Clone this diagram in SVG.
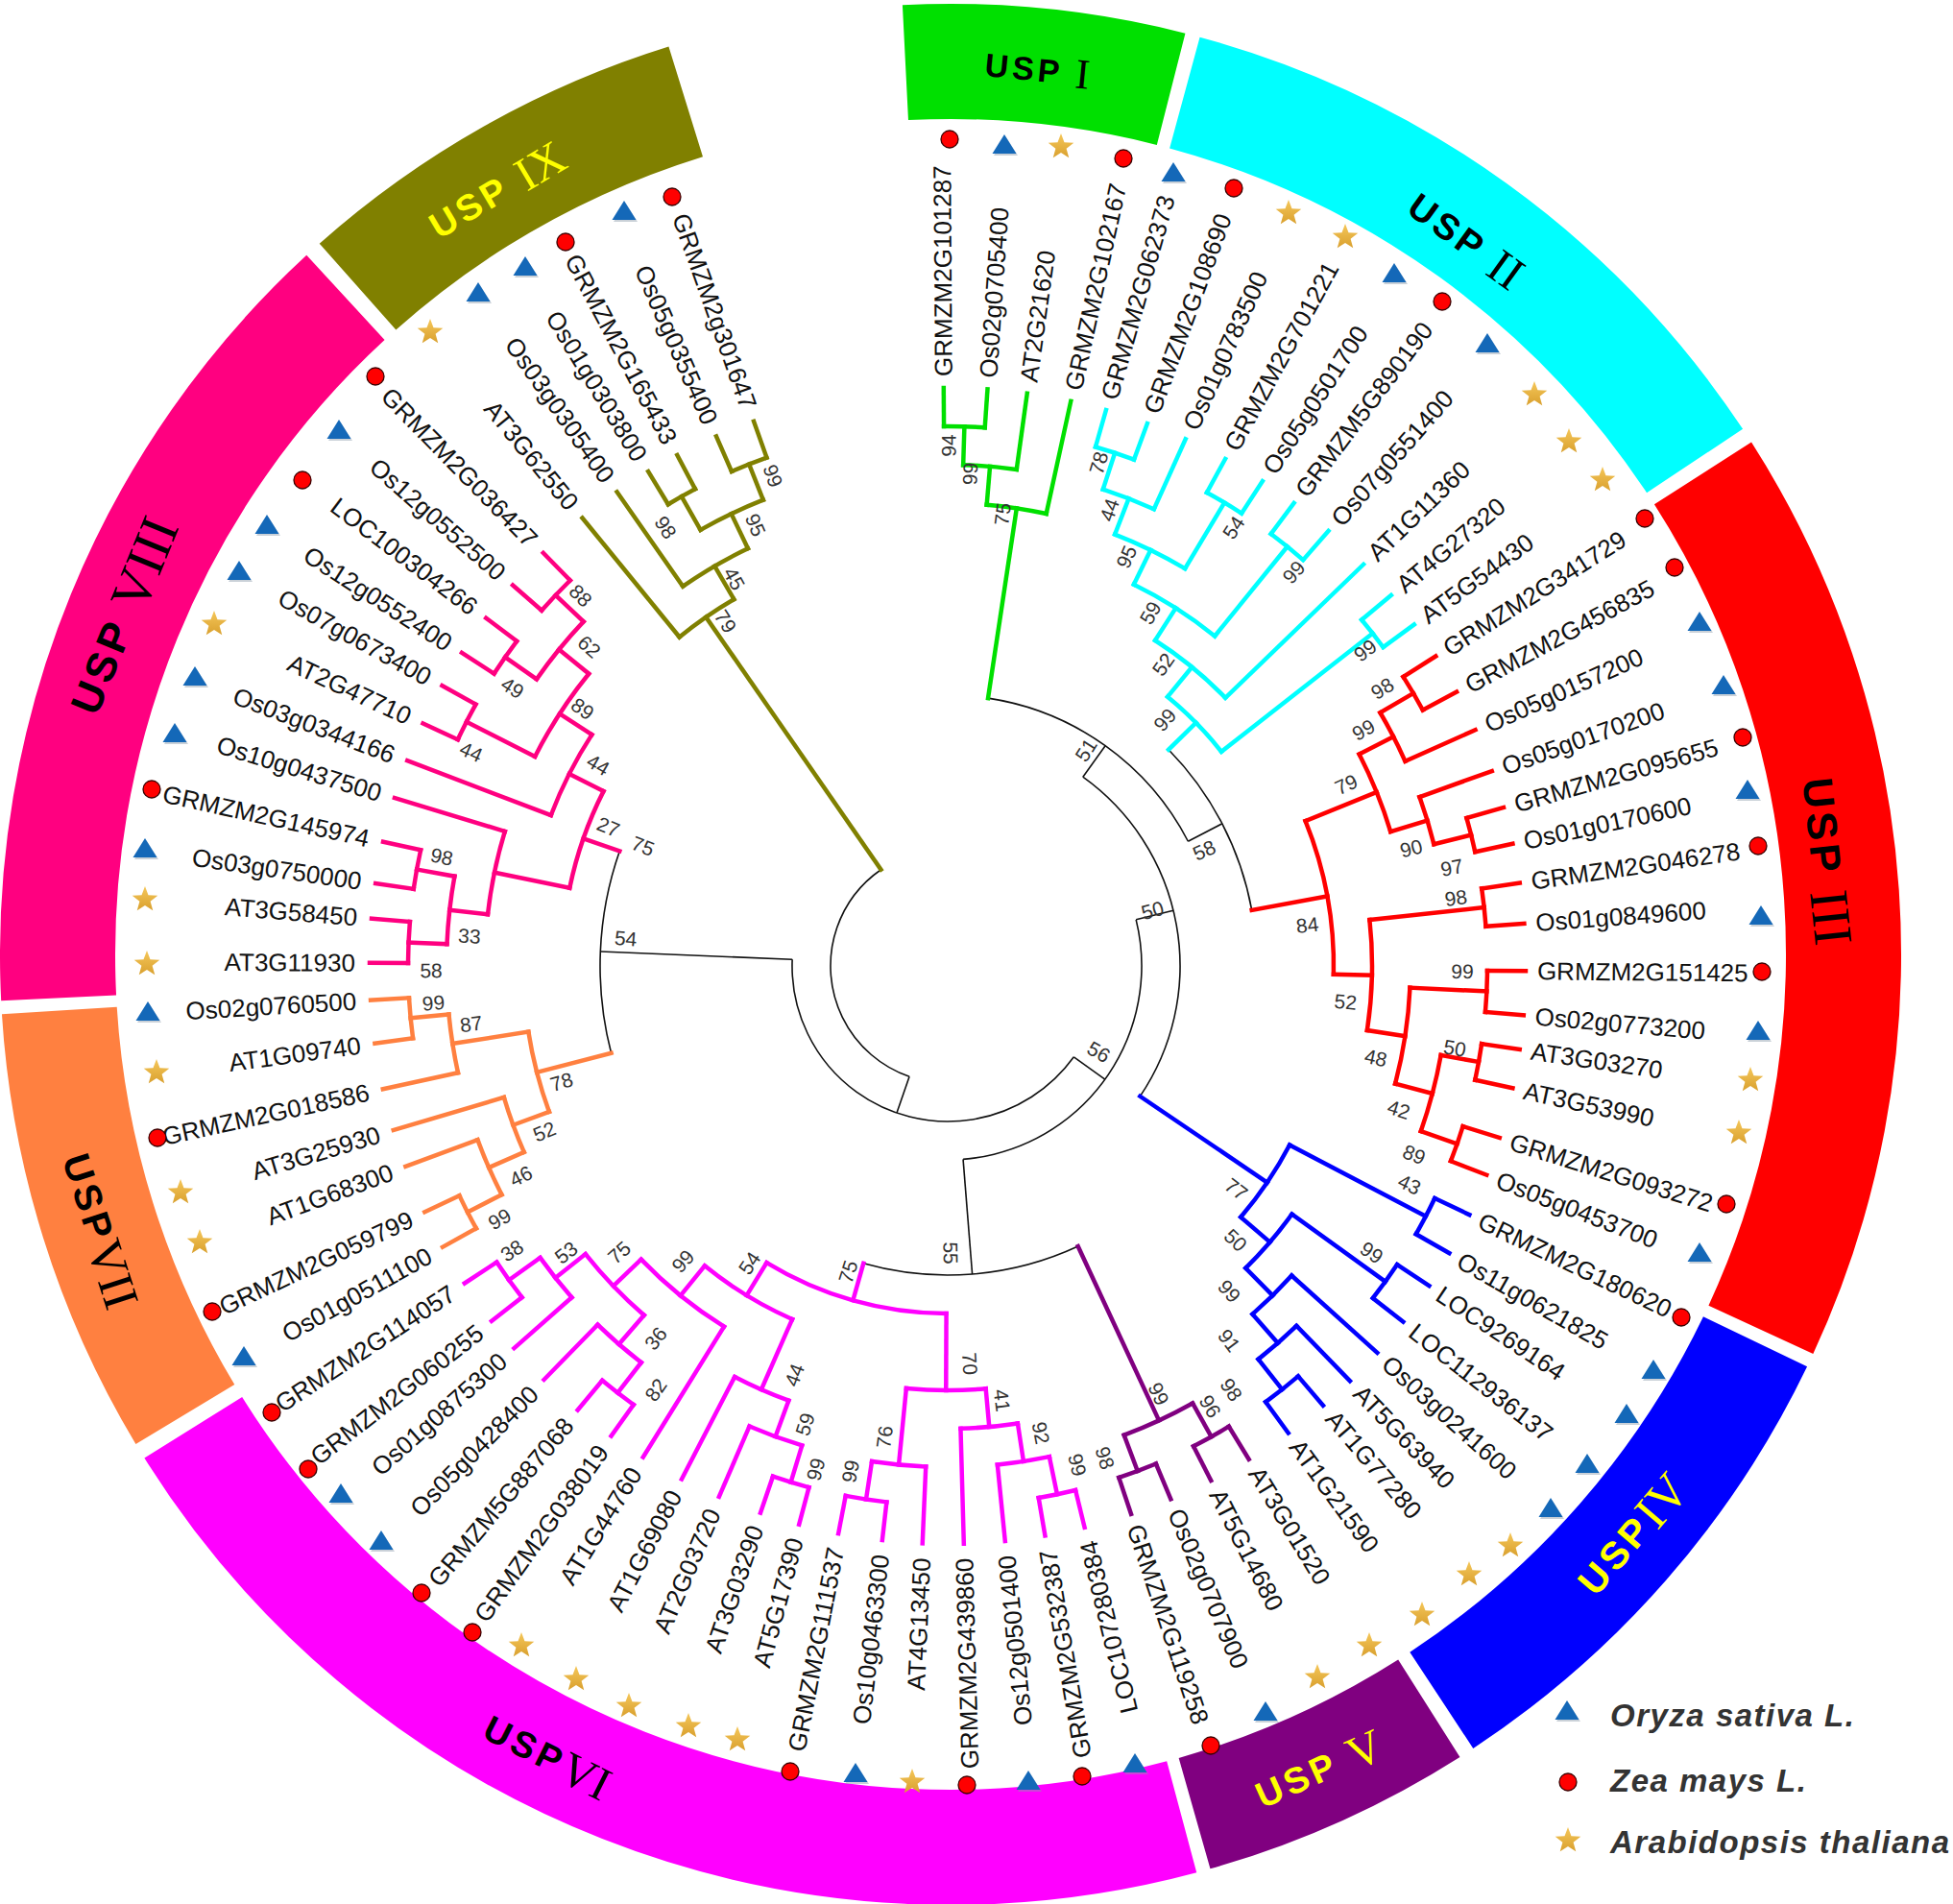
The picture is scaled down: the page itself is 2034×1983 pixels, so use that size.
<svg xmlns="http://www.w3.org/2000/svg" width="2034" height="1983" viewBox="0 0 2034 1983">
<defs>
<style>
.t{font-family:"Liberation Sans",Arial,sans-serif;font-size:26px;fill:#111;dominant-baseline:central}
.e{text-anchor:end}
.bs{font-family:"Liberation Sans",Arial,sans-serif;font-size:21px;fill:#333;text-anchor:middle;dominant-baseline:central}
.bl{font-family:"Liberation Sans",Arial,sans-serif;font-weight:bold;letter-spacing:4px;text-anchor:middle;dominant-baseline:central}
.rn{font-family:"Liberation Serif","Times New Roman",serif;font-weight:normal;font-size:1.3em;letter-spacing:0}
.lg{font-family:"Liberation Sans",Arial,sans-serif;font-weight:bold;font-style:italic;font-size:33px;letter-spacing:1.5px;fill:#333}
.bd{fill:none;stroke-width:120}
</style>
<linearGradient id="sg" x1="0" y1="0" x2="0" y2="1"><stop offset="0" stop-color="#F5C75A"/><stop offset="1" stop-color="#D9A02E"/></linearGradient>
<g id="tri"><path d="M1.5,-9.5 L14,10 L-11,10Z" fill="#8a9aa8" opacity="0.45"/><path d="M0,-12 L12.5,8 L-12.5,8Z" fill="#1468B8"/></g>
<circle id="dot" r="9" fill="#FF0000" stroke="#3a0000" stroke-width="1.3"/>
<path id="star" d="M0,-14 L3.47,-4.77 L13.31,-4.33 L5.61,1.82 L8.23,11.33 L0,5.9 L-8.23,11.33 L-5.61,1.82 L-13.31,-4.33 L-3.47,-4.77Z" fill="url(#sg)"/>
</defs>
<rect width="2034" height="1983" fill="#fff"/>

<g id="bands" transform="translate(990 994)">
<g id="band-USP-I"><circle class="bd" r="930" pathLength="360" stroke="#00E000" stroke-dasharray="17.2 720" transform="rotate(-92.9)"/><text class="bl" fill="#000" font-size="34" transform="rotate(-84.4) translate(926 0) rotate(90)">USP <tspan class="rn">I</tspan></text></g>
<g id="band-USP-II"><circle class="bd" r="930" pathLength="360" stroke="#00FFFF" stroke-dasharray="41.25 720" transform="rotate(-74.8)"/><text class="bl" fill="#000" font-size="38" transform="rotate(-54.2) translate(917 0) rotate(90)">USP <tspan class="rn">II</tspan></text></g>
<g id="band-USP-III"><circle class="bd" r="930" pathLength="360" stroke="#FF0000" stroke-dasharray="57.45 720" transform="rotate(-32.6)"/><text class="bl" fill="#000" font-size="44" transform="rotate(-6.07) translate(917 0) rotate(90)">USP <tspan class="rn">III</tspan></text></g>
<g id="band-USP-IV"><circle class="bd" r="930" pathLength="360" stroke="#0000FF" stroke-dasharray="30.95 720" transform="rotate(25.7)"/><text class="bl" fill="#FFFF00" font-size="40" transform="rotate(40.4) translate(932 0) rotate(-90)">USP<tspan class="rn">IV</tspan></text></g>
<g id="band-USP-V"><circle class="bd" r="930" pathLength="360" stroke="#800080" stroke-dasharray="16.55 720" transform="rotate(57.6)"/><text class="bl" fill="#FFFF00" font-size="38" transform="rotate(65.7) translate(932 0) rotate(-90)">USP <tspan class="rn">V</tspan></text></g>
<g id="band-USP-VI"><circle class="bd" r="930" pathLength="360" stroke="#FF00FF" stroke-dasharray="73 720" transform="rotate(75)"/><text class="bl" fill="#000" font-size="38" transform="rotate(116.7) translate(935 0) rotate(-90)">USP<tspan class="rn">VI</tspan></text></g>
<g id="band-USP-VII"><circle class="bd" r="930" pathLength="360" stroke="#FF8040" stroke-dasharray="27.4 720" transform="rotate(149)"/><text class="bl" fill="#000" font-size="40" transform="rotate(162) translate(932 0) rotate(-90)">USP<tspan class="rn">VII</tspan></text></g>
<g id="band-USP-VIII"><circle class="bd" r="930" pathLength="360" stroke="#FF0080" stroke-dasharray="50.15 720" transform="rotate(177.2)"/><text class="bl" fill="#000" font-size="44" transform="rotate(202.25) translate(932 0) rotate(90)">USP <tspan class="rn" font-size="1.05em" letter-spacing="-3">VIII</tspan></text></g>
<g id="band-USP-IX"><circle class="bd" r="930" pathLength="360" stroke="#808000" stroke-dasharray="24.35 720" transform="rotate(228.4)"/><text class="bl" fill="#FFFF00" font-size="38" transform="rotate(239.3) translate(925 0) rotate(90)">USP <tspan class="rn">IX</tspan></text></g>
</g>

<g id="connectors" transform="translate(987 1006)" fill="none">
<g id="backbone" stroke="#111" stroke-width="1.6">
<circle r="322" pathLength="360" stroke-dasharray="34 720" transform="rotate(-44.4)"/>
<circle r="282" pathLength="360" stroke-dasharray="54.03 720" transform="rotate(-81.43)"/>
<circle r="242" pathLength="360" stroke-dasharray="88.54 720" transform="rotate(-54.415)"/>
<circle r="202" pathLength="360" stroke-dasharray="99.24 720" transform="rotate(-13.8)"/>
<circle r="322" pathLength="360" stroke-dasharray="40.735 720" transform="rotate(65.075)"/>
<circle r="362" pathLength="360" stroke-dasharray="33.8 720" transform="rotate(165.48)"/>
<circle r="162" pathLength="360" stroke-dasharray="146.56 720" transform="rotate(35.82)"/>
<circle r="122" pathLength="360" stroke-dasharray="126.18 720" transform="rotate(109.1)"/>
<path d="M282 0H322" transform="rotate(-27.4)"/>
<path d="M242 0H282" transform="rotate(-54.415)"/>
<path d="M202 0H242" transform="rotate(-13.8)"/>
<path d="M202 0H322" transform="rotate(85.44)"/>
<path d="M162 0H202" transform="rotate(35.82)"/>
<path d="M162 0H362" transform="rotate(182.38)"/>
<path d="M122 0H162" transform="rotate(109.1)"/>
</g>
<g id="clade-USP-I" stroke="#00E000" stroke-width="4.5" stroke-linecap="square">
<circle r="562" pathLength="360" stroke-dasharray="4.35 720" transform="rotate(-90.4)"/>
<circle r="522" pathLength="360" stroke-dasharray="6.125 720" transform="rotate(-88.225)"/>
<circle r="482" pathLength="360" stroke-dasharray="7.46 720" transform="rotate(-85.16)"/>
<path d="M562 0H602" transform="rotate(-90.4)"/>
<path d="M562 0H602" transform="rotate(-86.05)"/>
<path d="M522 0H562" transform="rotate(-88.225)"/>
<path d="M522 0H602" transform="rotate(-82.1)"/>
<path d="M482 0H522" transform="rotate(-85.16)"/>
<path d="M482 0H602" transform="rotate(-77.7)"/>
<path d="M282 0H482" transform="rotate(-81.43)"/>
</g>
<g id="clade-USP-II" stroke="#00FFFF" stroke-width="4.5" stroke-linecap="square">
<circle r="562" pathLength="360" stroke-dasharray="4.3 720" transform="rotate(-74.1)"/>
<circle r="522" pathLength="360" stroke-dasharray="6.25 720" transform="rotate(-71.95)"/>
<circle r="562" pathLength="360" stroke-dasharray="4.3 720" transform="rotate(-61.3)"/>
<circle r="482" pathLength="360" stroke-dasharray="9.675 720" transform="rotate(-68.825)"/>
<circle r="562" pathLength="360" stroke-dasharray="4.4 720" transform="rotate(-53.2)"/>
<circle r="442" pathLength="360" stroke-dasharray="12.99 720" transform="rotate(-63.99)"/>
<circle r="402" pathLength="360" stroke-dasharray="13.49 720" transform="rotate(-57.49)"/>
<circle r="562" pathLength="360" stroke-dasharray="3.7 720" transform="rotate(-39.9)"/>
<circle r="362" pathLength="360" stroke-dasharray="12.695 720" transform="rotate(-50.745)"/>
<path d="M562 0H602" transform="rotate(-74.1)"/>
<path d="M562 0H602" transform="rotate(-69.8)"/>
<path d="M522 0H562" transform="rotate(-71.95)"/>
<path d="M522 0H602" transform="rotate(-65.7)"/>
<path d="M482 0H522" transform="rotate(-68.825)"/>
<path d="M562 0H602" transform="rotate(-61.3)"/>
<path d="M562 0H602" transform="rotate(-57)"/>
<path d="M482 0H562" transform="rotate(-59.15)"/>
<path d="M442 0H482" transform="rotate(-63.99)"/>
<path d="M562 0H602" transform="rotate(-53.2)"/>
<path d="M562 0H602" transform="rotate(-48.8)"/>
<path d="M442 0H562" transform="rotate(-51)"/>
<path d="M402 0H442" transform="rotate(-57.49)"/>
<path d="M402 0H602" transform="rotate(-44)"/>
<path d="M362 0H402" transform="rotate(-50.745)"/>
<path d="M562 0H602" transform="rotate(-39.9)"/>
<path d="M562 0H602" transform="rotate(-36.2)"/>
<path d="M362 0H562" transform="rotate(-38.05)"/>
<path d="M322 0H362" transform="rotate(-44.4)"/>
</g>
<g id="clade-USP-III" stroke="#FF0000" stroke-width="4.5" stroke-linecap="square">
<circle r="562" pathLength="360" stroke-dasharray="4.1 720" transform="rotate(-32.4)"/>
<circle r="522" pathLength="360" stroke-dasharray="6.25 720" transform="rotate(-30.35)"/>
<circle r="562" pathLength="360" stroke-dasharray="3.7 720" transform="rotate(-15.9)"/>
<circle r="522" pathLength="360" stroke-dasharray="5.65 720" transform="rotate(-19.7)"/>
<circle r="482" pathLength="360" stroke-dasharray="10.35 720" transform="rotate(-27.225)"/>
<circle r="562" pathLength="360" stroke-dasharray="4.05 720" transform="rotate(-8.25)"/>
<circle r="562" pathLength="360" stroke-dasharray="4.4 720" transform="rotate(0.5)"/>
<circle r="562" pathLength="360" stroke-dasharray="3.9 720" transform="rotate(8.3)"/>
<circle r="562" pathLength="360" stroke-dasharray="3.9 720" transform="rotate(17.3)"/>
<circle r="522" pathLength="360" stroke-dasharray="9 720" transform="rotate(10.25)"/>
<circle r="482" pathLength="360" stroke-dasharray="12.05 720" transform="rotate(2.7)"/>
<circle r="442" pathLength="360" stroke-dasharray="14.95 720" transform="rotate(-6.225)"/>
<circle r="402" pathLength="360" stroke-dasharray="23.3 720" transform="rotate(-22.05)"/>
<path d="M562 0H602" transform="rotate(-32.4)"/>
<path d="M562 0H602" transform="rotate(-28.3)"/>
<path d="M522 0H562" transform="rotate(-30.35)"/>
<path d="M522 0H602" transform="rotate(-24.1)"/>
<path d="M482 0H522" transform="rotate(-27.225)"/>
<path d="M522 0H602" transform="rotate(-19.7)"/>
<path d="M562 0H602" transform="rotate(-15.9)"/>
<path d="M562 0H602" transform="rotate(-12.2)"/>
<path d="M522 0H562" transform="rotate(-14.05)"/>
<path d="M482 0H522" transform="rotate(-16.875)"/>
<path d="M402 0H482" transform="rotate(-22.05)"/>
<path d="M562 0H602" transform="rotate(-8.25)"/>
<path d="M562 0H602" transform="rotate(-4.2)"/>
<path d="M442 0H562" transform="rotate(-6.225)"/>
<path d="M562 0H602" transform="rotate(0.5)"/>
<path d="M562 0H602" transform="rotate(4.9)"/>
<path d="M482 0H562" transform="rotate(2.7)"/>
<path d="M562 0H602" transform="rotate(8.3)"/>
<path d="M562 0H602" transform="rotate(12.2)"/>
<path d="M522 0H562" transform="rotate(10.25)"/>
<path d="M562 0H602" transform="rotate(17.3)"/>
<path d="M562 0H602" transform="rotate(21.2)"/>
<path d="M522 0H562" transform="rotate(19.25)"/>
<path d="M482 0H522" transform="rotate(14.75)"/>
<path d="M442 0H482" transform="rotate(8.725)"/>
<path d="M402 0H442" transform="rotate(1.25)"/>
<path d="M322 0H402" transform="rotate(-10.4)"/>
</g>
<g id="clade-USP-IV" stroke="#0000FF" stroke-width="4.5" stroke-linecap="square">
<circle r="562" pathLength="360" stroke-dasharray="4.3 720" transform="rotate(25.5)"/>
<circle r="562" pathLength="360" stroke-dasharray="4.4 720" transform="rotate(33.6)"/>
<circle r="562" pathLength="360" stroke-dasharray="4.4 720" transform="rotate(49.5)"/>
<circle r="522" pathLength="360" stroke-dasharray="5.8 720" transform="rotate(45.9)"/>
<circle r="482" pathLength="360" stroke-dasharray="6.8 720" transform="rotate(42)"/>
<circle r="442" pathLength="360" stroke-dasharray="9.6 720" transform="rotate(35.8)"/>
<circle r="402" pathLength="360" stroke-dasharray="12.95 720" transform="rotate(27.65)"/>
<path d="M562 0H602" transform="rotate(25.5)"/>
<path d="M562 0H602" transform="rotate(29.8)"/>
<path d="M402 0H562" transform="rotate(27.65)"/>
<path d="M562 0H602" transform="rotate(33.6)"/>
<path d="M562 0H602" transform="rotate(38)"/>
<path d="M442 0H562" transform="rotate(35.8)"/>
<path d="M482 0H602" transform="rotate(42)"/>
<path d="M522 0H602" transform="rotate(45.9)"/>
<path d="M562 0H602" transform="rotate(49.5)"/>
<path d="M562 0H602" transform="rotate(53.9)"/>
<path d="M522 0H562" transform="rotate(51.7)"/>
<path d="M482 0H522" transform="rotate(48.8)"/>
<path d="M442 0H482" transform="rotate(45.4)"/>
<path d="M402 0H442" transform="rotate(40.6)"/>
<path d="M242 0H402" transform="rotate(34.125)"/>
</g>
<g id="clade-USP-V" stroke="#800080" stroke-width="4.5" stroke-linecap="square">
<circle r="562" pathLength="360" stroke-dasharray="4.3 720" transform="rotate(58.6)"/>
<circle r="562" pathLength="360" stroke-dasharray="4.2 720" transform="rotate(67.3)"/>
<circle r="522" pathLength="360" stroke-dasharray="8.65 720" transform="rotate(60.75)"/>
<path d="M562 0H602" transform="rotate(58.6)"/>
<path d="M562 0H602" transform="rotate(62.9)"/>
<path d="M522 0H562" transform="rotate(60.75)"/>
<path d="M562 0H602" transform="rotate(67.3)"/>
<path d="M562 0H602" transform="rotate(71.5)"/>
<path d="M522 0H562" transform="rotate(69.4)"/>
<path d="M322 0H522" transform="rotate(65.075)"/>
</g>
<g id="clade-USP-VI" stroke="#FF00FF" stroke-width="4.5" stroke-linecap="square">
<circle r="562" pathLength="360" stroke-dasharray="4 720" transform="rotate(76.3)"/>
<circle r="522" pathLength="360" stroke-dasharray="6 720" transform="rotate(78.3)"/>
<circle r="482" pathLength="360" stroke-dasharray="7.1 720" transform="rotate(81.3)"/>
<circle r="562" pathLength="360" stroke-dasharray="4.4 720" transform="rotate(96.5)"/>
<circle r="522" pathLength="360" stroke-dasharray="6.2 720" transform="rotate(92.5)"/>
<circle r="442" pathLength="360" stroke-dasharray="10.75 720" transform="rotate(84.85)"/>
<circle r="562" pathLength="360" stroke-dasharray="4 720" transform="rotate(104.9)"/>
<circle r="522" pathLength="360" stroke-dasharray="6.4 720" transform="rotate(106.9)"/>
<circle r="482" pathLength="360" stroke-dasharray="7.3 720" transform="rotate(110.1)"/>
<circle r="562" pathLength="360" stroke-dasharray="4.6 720" transform="rotate(142.1)"/>
<circle r="522" pathLength="360" stroke-dasharray="5.8 720" transform="rotate(138.6)"/>
<circle r="562" pathLength="360" stroke-dasharray="4.2 720" transform="rotate(125.6)"/>
<circle r="522" pathLength="360" stroke-dasharray="6.6 720" transform="rotate(127.7)"/>
<circle r="482" pathLength="360" stroke-dasharray="10.5 720" transform="rotate(131)"/>
<circle r="442" pathLength="360" stroke-dasharray="14.45 720" transform="rotate(121.8)"/>
<circle r="402" pathLength="360" stroke-dasharray="15.275 720" transform="rotate(113.75)"/>
<circle r="362" pathLength="360" stroke-dasharray="31.165 720" transform="rotate(90.225)"/>
<path d="M562 0H602" transform="rotate(76.3)"/>
<path d="M562 0H602" transform="rotate(80.3)"/>
<path d="M522 0H562" transform="rotate(78.3)"/>
<path d="M522 0H602" transform="rotate(84.3)"/>
<path d="M482 0H522" transform="rotate(81.3)"/>
<path d="M482 0H602" transform="rotate(88.4)"/>
<path d="M442 0H482" transform="rotate(84.85)"/>
<path d="M522 0H602" transform="rotate(92.5)"/>
<path d="M562 0H602" transform="rotate(96.5)"/>
<path d="M562 0H602" transform="rotate(100.9)"/>
<path d="M522 0H562" transform="rotate(98.7)"/>
<path d="M442 0H522" transform="rotate(95.6)"/>
<path d="M362 0H442" transform="rotate(90.225)"/>
<path d="M562 0H602" transform="rotate(104.9)"/>
<path d="M562 0H602" transform="rotate(108.9)"/>
<path d="M522 0H562" transform="rotate(106.9)"/>
<path d="M522 0H602" transform="rotate(113.3)"/>
<path d="M482 0H522" transform="rotate(110.1)"/>
<path d="M482 0H602" transform="rotate(117.4)"/>
<path d="M402 0H482" transform="rotate(113.75)"/>
<path d="M442 0H602" transform="rotate(121.8)"/>
<path d="M562 0H602" transform="rotate(125.6)"/>
<path d="M562 0H602" transform="rotate(129.8)"/>
<path d="M522 0H562" transform="rotate(127.7)"/>
<path d="M522 0H602" transform="rotate(134.3)"/>
<path d="M482 0H522" transform="rotate(131)"/>
<path d="M522 0H602" transform="rotate(138.6)"/>
<path d="M562 0H602" transform="rotate(142.1)"/>
<path d="M562 0H602" transform="rotate(146.7)"/>
<path d="M522 0H562" transform="rotate(144.4)"/>
<path d="M482 0H522" transform="rotate(141.5)"/>
<path d="M442 0H482" transform="rotate(136.25)"/>
<path d="M402 0H442" transform="rotate(129.025)"/>
<path d="M362 0H402" transform="rotate(121.39)"/>
<path d="M322 0H362" transform="rotate(105.81)"/>
</g>
<g id="clade-USP-VII" stroke="#FF8040" stroke-width="4.5" stroke-linecap="square">
<circle r="562" pathLength="360" stroke-dasharray="3.9 720" transform="rotate(150.9)"/>
<circle r="522" pathLength="360" stroke-dasharray="6.85 720" transform="rotate(152.85)"/>
<circle r="482" pathLength="360" stroke-dasharray="7.225 720" transform="rotate(156.275)"/>
<circle r="562" pathLength="360" stroke-dasharray="4.3 720" transform="rotate(172.3)"/>
<circle r="522" pathLength="360" stroke-dasharray="6.75 720" transform="rotate(167.7)"/>
<circle r="442" pathLength="360" stroke-dasharray="11.185 720" transform="rotate(159.89)"/>
<path d="M562 0H602" transform="rotate(150.9)"/>
<path d="M562 0H602" transform="rotate(154.8)"/>
<path d="M522 0H562" transform="rotate(152.85)"/>
<path d="M522 0H602" transform="rotate(159.7)"/>
<path d="M482 0H522" transform="rotate(156.275)"/>
<path d="M482 0H602" transform="rotate(163.5)"/>
<path d="M442 0H482" transform="rotate(159.89)"/>
<path d="M522 0H602" transform="rotate(167.7)"/>
<path d="M562 0H602" transform="rotate(172.3)"/>
<path d="M562 0H602" transform="rotate(176.6)"/>
<path d="M522 0H562" transform="rotate(174.45)"/>
<path d="M442 0H522" transform="rotate(171.075)"/>
<path d="M362 0H442" transform="rotate(165.48)"/>
</g>
<g id="clade-USP-VIII" stroke="#FF0080" stroke-width="4.5" stroke-linecap="square">
<circle r="562" pathLength="360" stroke-dasharray="4.4 720" transform="rotate(180.3)"/>
<circle r="562" pathLength="360" stroke-dasharray="4.2 720" transform="rotate(188.2)"/>
<circle r="522" pathLength="360" stroke-dasharray="7.8 720" transform="rotate(182.5)"/>
<circle r="482" pathLength="360" stroke-dasharray="10.5 720" transform="rotate(186.4)"/>
<circle r="562" pathLength="360" stroke-dasharray="4.2 720" transform="rotate(204.8)"/>
<circle r="562" pathLength="360" stroke-dasharray="4.2 720" transform="rotate(212.8)"/>
<circle r="562" pathLength="360" stroke-dasharray="4.4 720" transform="rotate(221.2)"/>
<circle r="522" pathLength="360" stroke-dasharray="8.5 720" transform="rotate(214.9)"/>
<circle r="482" pathLength="360" stroke-dasharray="12.25 720" transform="rotate(206.9)"/>
<circle r="442" pathLength="360" stroke-dasharray="12.225 720" transform="rotate(200.8)"/>
<circle r="402" pathLength="360" stroke-dasharray="15.26 720" transform="rotate(191.65)"/>
<path d="M562 0H602" transform="rotate(180.3)"/>
<path d="M562 0H602" transform="rotate(184.7)"/>
<path d="M522 0H562" transform="rotate(182.5)"/>
<path d="M562 0H602" transform="rotate(188.2)"/>
<path d="M562 0H602" transform="rotate(192.4)"/>
<path d="M522 0H562" transform="rotate(190.3)"/>
<path d="M482 0H522" transform="rotate(186.4)"/>
<path d="M482 0H602" transform="rotate(196.9)"/>
<path d="M402 0H482" transform="rotate(191.65)"/>
<path d="M442 0H602" transform="rotate(200.8)"/>
<path d="M562 0H602" transform="rotate(204.8)"/>
<path d="M562 0H602" transform="rotate(209)"/>
<path d="M482 0H562" transform="rotate(206.9)"/>
<path d="M562 0H602" transform="rotate(212.8)"/>
<path d="M562 0H602" transform="rotate(217)"/>
<path d="M522 0H562" transform="rotate(214.9)"/>
<path d="M562 0H602" transform="rotate(221.2)"/>
<path d="M562 0H602" transform="rotate(225.6)"/>
<path d="M522 0H562" transform="rotate(223.4)"/>
<path d="M482 0H522" transform="rotate(219.15)"/>
<path d="M442 0H482" transform="rotate(213.025)"/>
<path d="M402 0H442" transform="rotate(206.91)"/>
<path d="M362 0H402" transform="rotate(199.28)"/>
</g>
<g id="clade-USP-IX" stroke="#808000" stroke-width="4.5" stroke-linecap="square">
<circle r="562" pathLength="360" stroke-dasharray="3.3 720" transform="rotate(238.8)"/>
<circle r="562" pathLength="360" stroke-dasharray="4 720" transform="rotate(246.4)"/>
<circle r="522" pathLength="360" stroke-dasharray="7.95 720" transform="rotate(240.45)"/>
<circle r="482" pathLength="360" stroke-dasharray="9.325 720" transform="rotate(235.1)"/>
<circle r="442" pathLength="360" stroke-dasharray="8.96 720" transform="rotate(230.8)"/>
<path d="M442 0H602" transform="rotate(230.8)"/>
<path d="M482 0H602" transform="rotate(235.1)"/>
<path d="M562 0H602" transform="rotate(238.8)"/>
<path d="M562 0H602" transform="rotate(242.1)"/>
<path d="M522 0H562" transform="rotate(240.45)"/>
<path d="M562 0H602" transform="rotate(246.4)"/>
<path d="M562 0H602" transform="rotate(250.4)"/>
<path d="M522 0H562" transform="rotate(248.4)"/>
<path d="M482 0H522" transform="rotate(244.425)"/>
<path d="M442 0H482" transform="rotate(239.76)"/>
<path d="M122 0H442" transform="rotate(235.28)"/>
</g>
</g>

<g id="bootstrap" transform="translate(987 1006)" class="bs">
<text transform="rotate(-89.9) translate(542 0)">94</text>
<text transform="rotate(-87.4) translate(513 0)">99</text>
<text transform="rotate(-83.1) translate(474 0)">75</text>
<text transform="rotate(-73.3) translate(547 0)">78</text>
<text transform="rotate(-70.5) translate(504 0)">44</text>
<text transform="rotate(-66.4) translate(465 0)">95</text>
<text transform="rotate(-56.9) translate(545 0)">54</text>
<text transform="rotate(-60.15) translate(424 0)">59</text>
<text transform="rotate(-48.7) translate(546 0)">99</text>
<text transform="rotate(-54.46) translate(386 0)">52</text>
<text transform="rotate(-37.1) translate(545 0)">99</text>
<text transform="rotate(-48.6) translate(342 0)">99</text>
<text transform="rotate(-32.56) translate(537 0)">98</text>
<text transform="rotate(-29.6) translate(498 0)">99</text>
<text transform="rotate(-24.5) translate(456 0)">79</text>
<text transform="rotate(-14.25) translate(498 0)">90</text>
<text transform="rotate(-11.07) translate(535 0)">97</text>
<text transform="rotate(-7.63) translate(534 0)">98</text>
<text transform="rotate(0.6) translate(536 0)">99</text>
<text transform="rotate(-6.5) translate(377 0)">84</text>
<text transform="rotate(5.14) translate(416 0)">52</text>
<text transform="rotate(9.2) translate(535 0)">50</text>
<text transform="rotate(12.1) translate(456 0)">48</text>
<text transform="rotate(17.65) translate(493 0)">42</text>
<text transform="rotate(22) translate(524 0)">89</text>
<text transform="rotate(-24.3) translate(293 0)">58</text>
<text transform="rotate(-57.4) translate(267 0)">51</text>
<text transform="rotate(-15.2) translate(221 0)">50</text>
<text transform="rotate(29.6) translate(181 0)">56</text>
<text transform="rotate(89.4) translate(299 0)">55</text>
<text transform="rotate(184.9) translate(336.5 0) rotate(180)">54</text>
<text transform="rotate(201.5) translate(341 0) rotate(180)">75</text>
<text transform="rotate(25.3) translate(532 0)">43</text>
<text transform="rotate(37.7) translate(380 0)">77</text>
<text transform="rotate(43.6) translate(414 0)">50</text>
<text transform="rotate(34.05) translate(533 0)">99</text>
<text transform="rotate(49.1) translate(448 0)">99</text>
<text transform="rotate(53.05) translate(488 0)">91</text>
<text transform="rotate(56.2) translate(531 0)">98</text>
<text transform="rotate(63.75) translate(497 0)">99</text>
<text transform="rotate(59.2) translate(534 0)">96</text>
<text transform="rotate(72.26) translate(538 0)">98</text>
<text transform="rotate(75.43) translate(537 0)">99</text>
<text transform="rotate(78.7) translate(496 0)">92</text>
<text transform="rotate(82.85) translate(456 0)">41</text>
<text transform="rotate(86.8) translate(415 0)">70</text>
<text transform="rotate(97.65) translate(495 0) rotate(180)">76</text>
<text transform="rotate(100.9) translate(536 0) rotate(180)">99</text>
<text transform="rotate(110.56) translate(455 0) rotate(180)">44</text>
<text transform="rotate(107.3) translate(500 0) rotate(180)">59</text>
<text transform="rotate(104.7) translate(542 0) rotate(180)">99</text>
<text transform="rotate(123.7) translate(372 0) rotate(180)">54</text>
<text transform="rotate(108.06) translate(335 0) rotate(180)">75</text>
<text transform="rotate(131.9) translate(413 0) rotate(180)">99</text>
<text transform="rotate(146.85) translate(542 0) rotate(180)">38</text>
<text transform="rotate(143.1) translate(497 0) rotate(180)">53</text>
<text transform="rotate(138.9) translate(454 0) rotate(180)">75</text>
<text transform="rotate(128.1) translate(493 0) rotate(180)">36</text>
<text transform="rotate(124.56) translate(536 0) rotate(180)">82</text>
<text transform="rotate(175.9) translate(537 0) rotate(180)">99</text>
<text transform="rotate(173.07) translate(500 0) rotate(180)">87</text>
<text transform="rotate(163.3) translate(420 0) rotate(180)">78</text>
<text transform="rotate(157.7) translate(454 0) rotate(180)">52</text>
<text transform="rotate(153.8) translate(495.5 0) rotate(180)">46</text>
<text transform="rotate(150.56) translate(536 0) rotate(180)">99</text>
<text transform="rotate(192.2) translate(539 0) rotate(180)">98</text>
<text transform="rotate(179.5) translate(538 0) rotate(180)">58</text>
<text transform="rotate(183.6) translate(499 0) rotate(180)">33</text>
<text transform="rotate(209.94) translate(420 0) rotate(180)">44</text>
<text transform="rotate(215.18) translate(465 0) rotate(180)">89</text>
<text transform="rotate(204.2) translate(544 0) rotate(180)">44</text>
<text transform="rotate(212.6) translate(538 0) rotate(180)">49</text>
<text transform="rotate(221.7) translate(500 0) rotate(180)">62</text>
<text transform="rotate(225.26) translate(543 0) rotate(180)">88</text>
<text transform="rotate(202.3) translate(382 0) rotate(180)">27</text>
<text transform="rotate(250.4) translate(542 0) rotate(180)">99</text>
<text transform="rotate(246.47) translate(501 0) rotate(180)">95</text>
<text transform="rotate(237.27) translate(543 0) rotate(180)">98</text>
<text transform="rotate(241.15) translate(460.5 0) rotate(180)">45</text>
<text transform="rotate(237.2) translate(427 0) rotate(180)">79</text>
</g>

<g id="leaves" transform="translate(987 1006)">
<g id="L01"><text class="t" transform="rotate(-90.4) translate(614 0)">GRMZM2G101287</text><use href="#dot" x="2" y="-861"/></g>
<g id="L02"><text class="t" transform="rotate(-86.05) translate(614 0)">Os02g0705400</text><use href="#tri" x="59" y="-854"/></g>
<g id="L03"><text class="t" transform="rotate(-82.1) translate(614 0)">AT2G21620</text><use href="#star" x="118" y="-853"/></g>
<g id="L04"><text class="t" transform="rotate(-77.7) translate(614 0)">GRMZM2G102167</text><use href="#dot" x="183" y="-841"/></g>
<g id="L05"><text class="t" transform="rotate(-74.1) translate(614 0)">GRMZM2G062373</text><use href="#tri" x="235" y="-825"/></g>
<g id="L06"><text class="t" transform="rotate(-69.8) translate(614 0)">GRMZM2G108690</text><use href="#dot" x="298" y="-810"/></g>
<g id="L07"><text class="t" transform="rotate(-65.7) translate(614 0)">Os01g0783500</text><use href="#star" x="355" y="-784"/></g>
<g id="L08"><text class="t" transform="rotate(-61.3) translate(614 0)">GRMZM2G701221</text><use href="#star" x="414" y="-759"/></g>
<g id="L09"><text class="t" transform="rotate(-57) translate(614 0)">Os05g0501700</text><use href="#tri" x="465" y="-720"/></g>
<g id="L10"><text class="t" transform="rotate(-53.2) translate(614 0)">GRMZM5G890190</text><use href="#dot" x="515" y="-692"/></g>
<g id="L11"><text class="t" transform="rotate(-48.8) translate(614 0)">Os07g0551400</text><use href="#tri" x="562" y="-647"/></g>
<g id="L12"><text class="t" transform="rotate(-44) translate(614 0)">AT1G11360</text><use href="#star" x="611" y="-595"/></g>
<g id="L13"><text class="t" transform="rotate(-39.9) translate(614 0)">AT4G27320</text><use href="#star" x="647" y="-546"/></g>
<g id="L14"><text class="t" transform="rotate(-36.2) translate(614 0)">AT5G54430</text><use href="#star" x="682" y="-506"/></g>
<g id="L15"><text class="t" transform="rotate(-32.4) translate(614 0)">GRMZM2G341729</text><use href="#dot" x="726" y="-466"/></g>
<g id="L16"><text class="t" transform="rotate(-28.3) translate(614 0)">GRMZM2G456835</text><use href="#dot" x="757" y="-415"/></g>
<g id="L17"><text class="t" transform="rotate(-24.1) translate(614 0)">Os05g0157200</text><use href="#tri" x="783" y="-357"/></g>
<g id="L18"><text class="t" transform="rotate(-19.7) translate(614 0)">Os05g0170200</text><use href="#tri" x="808" y="-291"/></g>
<g id="L19"><text class="t" transform="rotate(-15.9) translate(614 0)">GRMZM2G095655</text><use href="#dot" x="828" y="-238"/></g>
<g id="L20"><text class="t" transform="rotate(-12.2) translate(614 0)">Os01g0170600</text><use href="#tri" x="833" y="-182"/></g>
<g id="L21"><text class="t" transform="rotate(-8.25) translate(614 0)">GRMZM2G046278</text><use href="#dot" x="844" y="-125"/></g>
<g id="L22"><text class="t" transform="rotate(-4.2) translate(614 0)">Os01g0849600</text><use href="#tri" x="847" y="-51"/></g>
<g id="L23"><text class="t" transform="rotate(0.5) translate(614 0)">GRMZM2G151425</text><use href="#dot" x="848" y="6"/></g>
<g id="L24"><text class="t" transform="rotate(4.9) translate(614 0)">Os02g0773200</text><use href="#tri" x="844" y="69"/></g>
<g id="L25"><text class="t" transform="rotate(8.3) translate(614 0)">AT3G03270</text><use href="#star" x="836" y="119"/></g>
<g id="L26"><text class="t" transform="rotate(12.2) translate(614 0)">AT3G53990</text><use href="#star" x="824" y="174"/></g>
<g id="L27"><text class="t" transform="rotate(17.3) translate(614 0)">GRMZM2G093272</text><use href="#dot" x="811" y="248"/></g>
<g id="L28"><text class="t" transform="rotate(21.2) translate(614 0)">Os05g0453700</text><use href="#tri" x="783" y="300"/></g>
<g id="L29"><text class="t" transform="rotate(25.5) translate(614 0)">GRMZM2G180620</text><use href="#dot" x="764" y="366"/></g>
<g id="L30"><text class="t" transform="rotate(29.8) translate(614 0)">Os11g0621825</text><use href="#tri" x="735" y="422"/></g>
<g id="L31"><text class="t" transform="rotate(33.6) translate(614 0)">LOC9269164</text><use href="#tri" x="707" y="468"/></g>
<g id="L32"><text class="t" transform="rotate(38) translate(614 0)">LOC112936137</text><use href="#tri" x="666" y="520"/></g>
<g id="L33"><text class="t" transform="rotate(42) translate(614 0)">Os03g0241600</text><use href="#tri" x="628" y="566"/></g>
<g id="L34"><text class="t" transform="rotate(45.9) translate(614 0)">AT5G63940</text><use href="#star" x="586" y="604"/></g>
<g id="L35"><text class="t" transform="rotate(49.5) translate(614 0)">AT1G77280</text><use href="#star" x="543" y="634"/></g>
<g id="L36"><text class="t" transform="rotate(53.9) translate(614 0)">AT1G21590</text><use href="#star" x="494" y="676"/></g>
<g id="L37"><text class="t" transform="rotate(58.6) translate(614 0)">AT3G01520</text><use href="#star" x="439" y="708"/></g>
<g id="L38"><text class="t" transform="rotate(62.9) translate(614 0)">AT5G14680</text><use href="#star" x="385" y="741"/></g>
<g id="L39"><text class="t" transform="rotate(67.3) translate(614 0)">Os02g0707900</text><use href="#tri" x="331" y="778"/></g>
<g id="L40"><text class="t" transform="rotate(71.5) translate(614 0)">GRMZM2G119258</text><use href="#dot" x="274" y="812"/></g>
<g id="L41"><text class="t e" transform="rotate(76.3) translate(617 0) rotate(180)">LOC107280384</text><use href="#tri" x="195" y="832"/></g>
<g id="L42"><text class="t e" transform="rotate(80.3) translate(617 0) rotate(180)">GRMZM2G532387</text><use href="#dot" x="140" y="844"/></g>
<g id="L43"><text class="t e" transform="rotate(84.3) translate(617 0) rotate(180)">Os12g0501400</text><use href="#tri" x="84" y="850"/></g>
<g id="L44"><text class="t e" transform="rotate(88.4) translate(617 0) rotate(180)">GRMZM2G439860</text><use href="#dot" x="20" y="853"/></g>
<g id="L45"><text class="t e" transform="rotate(92.5) translate(617 0) rotate(180)">AT4G13450</text><use href="#star" x="-37" y="850"/></g>
<g id="L46"><text class="t e" transform="rotate(96.5) translate(617 0) rotate(180)">Os10g0463300</text><use href="#tri" x="-96" y="842"/></g>
<g id="L47"><text class="t e" transform="rotate(100.9) translate(617 0) rotate(180)">GRMZM2G111537</text><use href="#dot" x="-164" y="839"/></g>
<g id="L48"><text class="t e" transform="rotate(104.9) translate(617 0) rotate(180)">AT5G17390</text><use href="#star" x="-219" y="806"/></g>
<g id="L49"><text class="t e" transform="rotate(108.9) translate(617 0) rotate(180)">AT3G03290</text><use href="#star" x="-270" y="792"/></g>
<g id="L50"><text class="t e" transform="rotate(113.3) translate(617 0) rotate(180)">AT2G03720</text><use href="#star" x="-332" y="771"/></g>
<g id="L51"><text class="t e" transform="rotate(117.4) translate(617 0) rotate(180)">AT1G69080</text><use href="#star" x="-387" y="743"/></g>
<g id="L52"><text class="t e" transform="rotate(121.8) translate(617 0) rotate(180)">AT1G44760</text><use href="#star" x="-444" y="708"/></g>
<g id="L53"><text class="t e" transform="rotate(125.6) translate(617 0) rotate(180)">GRMZM2G038019</text><use href="#dot" x="-495" y="694"/></g>
<g id="L54"><text class="t e" transform="rotate(129.8) translate(617 0) rotate(180)">GRMZM5G887068</text><use href="#dot" x="-548" y="653"/></g>
<g id="L55"><text class="t e" transform="rotate(134.3) translate(617 0) rotate(180)">Os05g0428400</text><use href="#tri" x="-590" y="600"/></g>
<g id="L56"><text class="t e" transform="rotate(138.6) translate(617 0) rotate(180)">Os01g0875300</text><use href="#tri" x="-632" y="551"/></g>
<g id="L57"><text class="t e" transform="rotate(142.1) translate(617 0) rotate(180)">GRMZM2G060255</text><use href="#dot" x="-666" y="524"/></g>
<g id="L58"><text class="t e" transform="rotate(146.7) translate(617 0) rotate(180)">GRMZM2G114057</text><use href="#dot" x="-704" y="465"/></g>
<g id="L59"><text class="t e" transform="rotate(150.9) translate(617 0) rotate(180)">Os01g0511100</text><use href="#tri" x="-733" y="408"/></g>
<g id="L60"><text class="t e" transform="rotate(154.8) translate(617 0) rotate(180)">GRMZM2G059799</text><use href="#dot" x="-766" y="360"/></g>
<g id="L61"><text class="t e" transform="rotate(159.7) translate(617 0) rotate(180)">AT1G68300</text><use href="#star" x="-779" y="288"/></g>
<g id="L62"><text class="t e" transform="rotate(163.5) translate(617 0) rotate(180)">AT3G25930</text><use href="#star" x="-799" y="236"/></g>
<g id="L63"><text class="t e" transform="rotate(167.7) translate(617 0) rotate(180)">GRMZM2G018586</text><use href="#dot" x="-823" y="179"/></g>
<g id="L64"><text class="t e" transform="rotate(172.3) translate(617 0) rotate(180)">AT1G09740</text><use href="#star" x="-824" y="111"/></g>
<g id="L65"><text class="t e" transform="rotate(176.6) translate(617 0) rotate(180)">Os02g0760500</text><use href="#tri" x="-833" y="49"/></g>
<g id="L66"><text class="t e" transform="rotate(180.3) translate(617 0) rotate(180)">AT3G11930</text><use href="#star" x="-834" y="-2"/></g>
<g id="L67"><text class="t e" transform="rotate(184.7) translate(617 0) rotate(180)">AT3G58450</text><use href="#star" x="-836" y="-69"/></g>
<g id="L68"><text class="t e" transform="rotate(188.2) translate(617 0) rotate(180)">Os03g0750000</text><use href="#tri" x="-836" y="-121"/></g>
<g id="L69"><text class="t e" transform="rotate(192.4) translate(617 0) rotate(180)">GRMZM2G145974</text><use href="#dot" x="-829" y="-184"/></g>
<g id="L70"><text class="t e" transform="rotate(196.9) translate(617 0) rotate(180)">Os10g0437500</text><use href="#tri" x="-805" y="-241"/></g>
<g id="L71"><text class="t e" transform="rotate(200.8) translate(617 0) rotate(180)">Os03g0344166</text><use href="#tri" x="-784" y="-300"/></g>
<g id="L72"><text class="t e" transform="rotate(204.8) translate(617 0) rotate(180)">AT2G47710</text><use href="#star" x="-764" y="-356"/></g>
<g id="L73"><text class="t e" transform="rotate(209) translate(617 0) rotate(180)">Os07g0673400</text><use href="#tri" x="-738" y="-410"/></g>
<g id="L74"><text class="t e" transform="rotate(212.8) translate(617 0) rotate(180)">Os12g0552400</text><use href="#tri" x="-709" y="-458"/></g>
<g id="L75"><text class="t e" transform="rotate(217) translate(617 0) rotate(180)">LOC100304266</text><use href="#dot" x="-672" y="-506"/></g>
<g id="L76"><text class="t e" transform="rotate(221.2) translate(617 0) rotate(180)">Os12g0552500</text><use href="#tri" x="-634" y="-557"/></g>
<g id="L77"><text class="t e" transform="rotate(225.6) translate(617 0) rotate(180)">GRMZM2G036427</text><use href="#dot" x="-596" y="-614"/></g>
<g id="L78"><text class="t e" transform="rotate(230.8) translate(617 0) rotate(180)">AT3G62550</text><use href="#star" x="-539" y="-660"/></g>
<g id="L79"><text class="t e" transform="rotate(235.1) translate(617 0) rotate(180)">Os03g0305400</text><use href="#tri" x="-489" y="-700"/></g>
<g id="L80"><text class="t e" transform="rotate(238.8) translate(617 0) rotate(180)">Os01g0303800</text><use href="#tri" x="-440" y="-727"/></g>
<g id="L81"><text class="t e" transform="rotate(242.1) translate(617 0) rotate(180)">GRMZM2G165433</text><use href="#dot" x="-398" y="-754"/></g>
<g id="L82"><text class="t e" transform="rotate(246.4) translate(617 0) rotate(180)">Os05g0355400</text><use href="#tri" x="-337" y="-785"/></g>
<g id="L83"><text class="t e" transform="rotate(250.4) translate(617 0) rotate(180)">GRMZM2g301647</text><use href="#dot" x="-287" y="-801"/></g>
</g>

<g id="legend">
<use href="#tri" x="1632" y="1783"/>
<text class="lg" x="1677" y="1798">Oryza sativa L.</text>
<use href="#dot" x="1633" y="1856"/>
<text class="lg" x="1677" y="1866">Zea mays L.</text>
<use href="#star" x="1633" y="1917"/>
<text class="lg" x="1677" y="1930">Arabidopsis thaliana</text>
</g>
</svg>
